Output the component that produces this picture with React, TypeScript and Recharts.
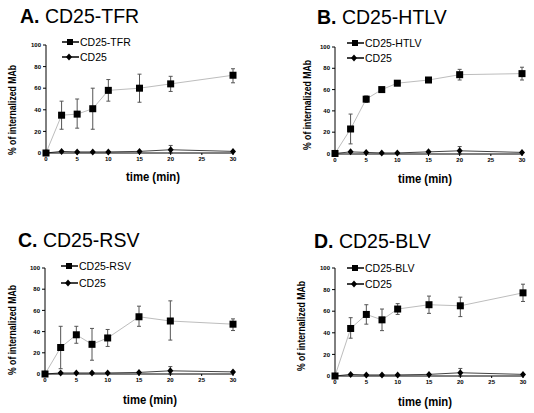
import React from "react";
import { ErrorBar, Line, LineChart, XAxis, YAxis } from "recharts";

const FONT = "'Liberation Sans', Arial, sans-serif";

/** 시간축 (min) */
const TIMES = [0, 2.5, 5, 7.5, 10, 15, 20, 30];
const X_TICKS = [0, 5, 10, 15, 20, 25, 30];
const Y_TICKS = [0, 20, 40, 60, 80, 100];

// A. CD25-TFR
const TFR_MEAN = [0, 35, 36, 41, 58, 60, 64, 72];
const TFR_LOW = [0, 22, 23, 22, 48, 47, 57, 65];
const TFR_HIGH = [0, 48, 50, 60, 68, 73, 71, 78];
// B. CD25-HTLV
const HTLV_MEAN = [0, 23, 51, 60, 66, 69, 74, 75];
const HTLV_LOW = [0, 9, 48, 58, 64, 67, 69, 69];
const HTLV_HIGH = [0, 37, 54, 62, 68, 71, 79, 81];
// C. CD25-RSV
const RSV_MEAN = [0, 25, 37, 28, 34, 54, 50, 47];
const RSV_LOW = [0, 5, 29, 13, 26, 45, 32, 41];
const RSV_HIGH = [0, 45, 45, 43, 42, 64, 69, 52];
// D. CD25-BLV
const BLV_MEAN = [0, 44, 57, 52, 62, 66, 65, 77];
const BLV_LOW = [0, 35, 48, 42, 57, 58, 55, 69];
const BLV_HIGH = [0, 54, 66, 62, 67, 74, 73, 85];

// CD25 control (each panel)
const CD25_A = [0, 1.5, 1, 1, 1, 1.5, 3, 1.5];
const CD25_B = [0, 1.5, 1, 0.5, 0.5, 1.5, 2.5, 1];
const CD25_C = [0, 1, 1, 1, 1, 1.5, 3, 2];
const CD25_D = [0, 1.5, 1, 1, 1, 1.5, 3, 1.5];
// only the 20 min point has a visible bar
const CD25_ERR_LOW = [0, 0, 0, 0, 0, 0, 3, 0];
const CD25_ERR_HIGH = [0, 0, 0, 0, 0, 0, 4, 0];

const buildData = (mean: number[], low: number[], high: number[], ctrl: number[]) =>
  TIMES.map((t, i) => ({
    t,
    fusion: mean[i],
    fusionErr: [mean[i] - low[i], high[i] - mean[i]],
    ctrl: ctrl[i],
    ctrlErr: [CD25_ERR_LOW[i], CD25_ERR_HIGH[i]],
  }));

const SquareDot = (props: any) => {
  const { cx, cy, index } = props;
  if (cx == null || cy == null) return null;
  return <rect key={`s-${index}`} x={cx - 3.5} y={cy - 3.5} width={7} height={7} fill="#000" />;
};

const DiamondDot = (props: any) => {
  const { cx, cy, index } = props;
  if (cx == null || cy == null) return null;
  return (
    <path
      key={`d-${index}`}
      d={`M${cx},${cy - 3.5}L${cx + 3},${cy}L${cx},${cy + 3.5}L${cx - 3},${cy}Z`}
      fill="#000"
    />
  );
};

interface PanelProps {
  letter: string;
  name: string;
  mean: number[];
  low: number[];
  high: number[];
  ctrl: number[];
  left: number;
  top: number;
  margin: { top: number; right: number; bottom: number; left: number };
  title: [number, number];
  legend: [number, number, number];
  yLabel: [number, number];
  xLabel: [number, number];
}

const PANEL_W = 267;
const PANEL_H = 205;

const Panel: React.FC<PanelProps> = (p) => {
  const data = buildData(p.mean, p.low, p.high, p.ctrl);
  const [lx, ly1, ly2] = p.legend;
  return (
    <div style={{ position: "absolute", left: p.left, top: p.top, width: PANEL_W, height: PANEL_H }}>
      <LineChart width={PANEL_W} height={PANEL_H} data={data} margin={p.margin}>
        <XAxis
          dataKey="t"
          type="number"
          domain={[0, 30]}
          ticks={X_TICKS}
          tickSize={2}
          tickMargin={2}
          height={20}
          stroke="#000"
          tick={{ fontSize: 6, fontWeight: "bold", fill: "#000", fontFamily: FONT }}
        />
        <YAxis
          type="number"
          domain={[0, 100]}
          ticks={Y_TICKS}
          tickSize={3}
          tickMargin={2}
          width={20}
          stroke="#000"
          tick={{ fontSize: 6, fontWeight: "bold", fill: "#000", fontFamily: FONT }}
        />
        <Line
          dataKey="fusion"
          type="linear"
          stroke="#bdbdbd"
          strokeWidth={1}
          dot={<SquareDot />}
          isAnimationActive={false}
        >
          <ErrorBar dataKey="fusionErr" direction="y" width={2} stroke="#555" strokeWidth={1} />
        </Line>
        <Line
          dataKey="ctrl"
          type="linear"
          stroke="#444"
          strokeWidth={1}
          dot={<DiamondDot />}
          isAnimationActive={false}
        >
          <ErrorBar dataKey="ctrlErr" direction="y" width={2} stroke="#555" strokeWidth={1} />
        </Line>
      </LineChart>
      <svg
        width={PANEL_W}
        height={PANEL_H}
        style={{ position: "absolute", left: 0, top: 0, pointerEvents: "none" }}
        fontFamily={FONT}
      >
        <text x={p.title[0]} y={p.title[1]} fontSize={19.5} fill="#000">
          <tspan fontWeight="bold">{p.letter}.</tspan>
          <tspan> CD25-{p.name}</tspan>
        </text>
        <line x1={lx} x2={lx + 17} y1={ly1} y2={ly1} stroke="#000" strokeWidth={1.5} />
        <rect x={lx + 5} y={ly1 - 3} width={6} height={6} fill="#000" />
        <text x={lx + 18} y={ly1 + 3.5} fontSize={10.5} fill="#000">
          CD25-{p.name}
        </text>
        <line x1={lx} x2={lx + 17} y1={ly2} y2={ly2} stroke="#000" strokeWidth={1.5} />
        <path
          d={`M${lx + 7},${ly2 - 3.5}L${lx + 10},${ly2}L${lx + 7},${ly2 + 3.5}L${lx + 4},${ly2}Z`}
          fill="#000"
        />
        <text x={lx + 18} y={ly2 + 3.5} fontSize={10.5} fill="#000">
          CD25
        </text>
        <text
          x={p.yLabel[0]}
          y={p.yLabel[1]}
          fontSize={11.5}
          fontWeight="bold"
          textAnchor="middle"
          textLength={90}
          lengthAdjust="spacingAndGlyphs"
          transform={`rotate(-90 ${p.yLabel[0]} ${p.yLabel[1]})`}
          dominantBaseline="central"
          fill="#000"
        >
          % of internalized MAb
        </text>
        <text
          x={p.xLabel[0]}
          y={p.xLabel[1]}
          fontSize={12.5}
          fontWeight="bold"
          textAnchor="middle"
          textLength={54}
          lengthAdjust="spacingAndGlyphs"
          dominantBaseline="central"
          fill="#000"
        >
          time (min)
        </text>
      </svg>
    </div>
  );
};

export default function App() {
  return (
    <div
      style={{
        position: "absolute",
        left: 0,
        top: 0,
        width: 534,
        height: 413,
        background: "#fff",
        overflow: "hidden",
      }}
    >
      <Panel
        letter="A"
        name="TFR"
        mean={TFR_MEAN}
        low={TFR_LOW}
        high={TFR_HIGH}
        ctrl={CD25_A}
        left={0}
        top={0}
        margin={{ top: 45, right: 34, bottom: 32, left: 26 }}
        title={[20, 23]}
        legend={[62, 42, 57]}
        yLabel={[12, 110]}
        xLabel={[153, 177]}
      />
      <Panel
        letter="B"
        name="HTLV"
        mean={HTLV_MEAN}
        low={HTLV_LOW}
        high={HTLV_HIGH}
        ctrl={CD25_B}
        left={267}
        top={0}
        margin={{ top: 47, right: 12, bottom: 31, left: 48 }}
        title={[50, 24]}
        legend={[80, 43, 58]}
        yLabel={[40, 105]}
        xLabel={[158, 179]}
      />
      <Panel
        letter="C"
        name="RSV"
        mean={RSV_MEAN}
        low={RSV_LOW}
        high={RSV_HIGH}
        ctrl={CD25_C}
        left={0}
        top={205}
        margin={{ top: 63, right: 34, bottom: 16, left: 25 }}
        title={[18, 42]}
        legend={[61, 61, 78]}
        yLabel={[12, 125]}
        xLabel={[150, 195]}
      />
      <Panel
        letter="D"
        name="BLV"
        mean={BLV_MEAN}
        low={BLV_LOW}
        high={BLV_HIGH}
        ctrl={CD25_D}
        left={267}
        top={205}
        margin={{ top: 63, right: 11, bottom: 14, left: 48 }}
        title={[47, 43]}
        legend={[80, 63, 79]}
        yLabel={[34, 121]}
        xLabel={[158, 197]}
      />
    </div>
  );
}
